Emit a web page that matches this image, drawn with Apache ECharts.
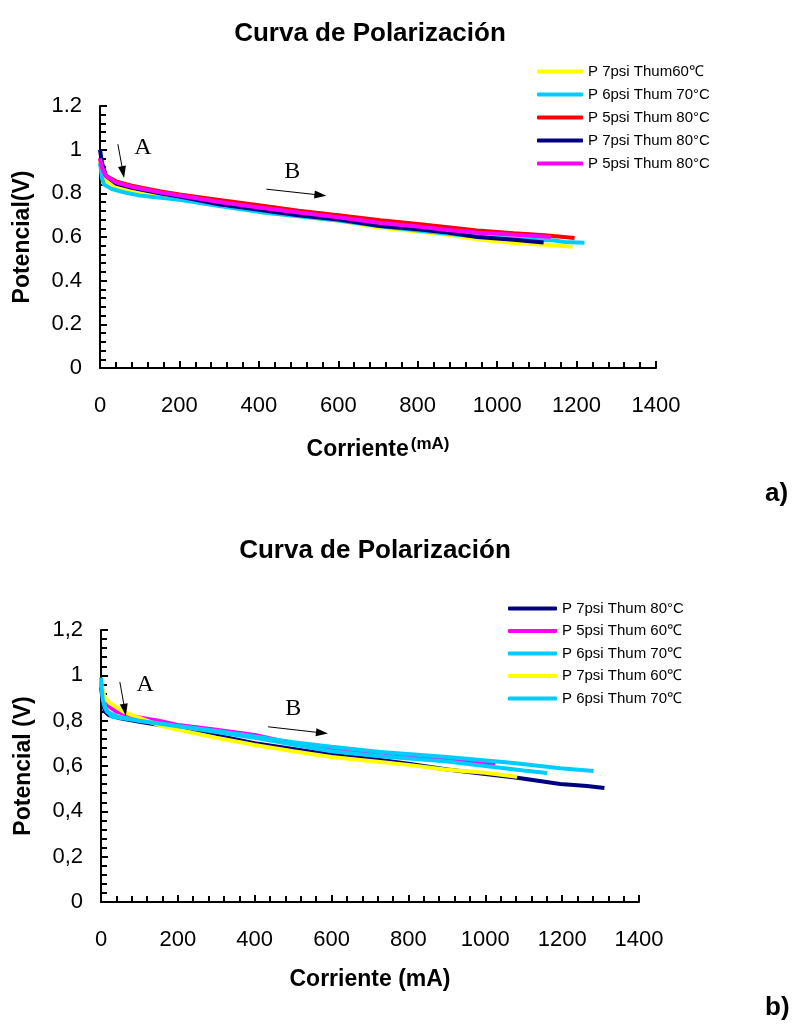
<!DOCTYPE html>
<html>
<head>
<meta charset="utf-8">
<script src="https://cdn.jsdelivr.net/npm/echarts@6/dist/echarts.min.js"></script>
<style>
html, body { margin: 0; padding: 0; background: #fff; }
#main { width: 792px; height: 1032px; }
</style>
</head>
<body>
<div id="main"></div>
<script>
// curva a) - corriente (mA), potencial (V)
var a_names = ['P 7psi Thum60\u2103', 'P 6psi Thum 70\u00b0C', 'P 5psi Thum 80\u00b0C', 'P 7psi Thum 80\u00b0C', 'P 5psi Thum 80\u00b0C '];
var a_colors = ['#ffff00', '#00ccff', '#ff0000', '#000080', '#ff00ff'];

var a_yellow = [[0,0.95],[5,0.9],[15,0.86],[40,0.83],[80,0.81],[150,0.79],[200,0.778],[300,0.748],[400,0.715],[500,0.695],[600,0.675],[700,0.643],[800,0.625],[875,0.61],[950,0.59],[1042,0.572],[1120,0.565],[1190,0.555]];
var a_cyan = [[0,0.94],[5,0.87],[10,0.84],[30,0.82],[60,0.805],[100,0.79],[200,0.77],[300,0.742],[400,0.715],[500,0.695],[600,0.675],[700,0.65],[800,0.63],[900,0.61],[1000,0.595],[1100,0.586],[1140,0.585],[1170,0.577],[1220,0.574]];
var a_red = [[0,0.96],[5,0.92],[15,0.88],[40,0.855],[80,0.835],[150,0.81],[200,0.795],[300,0.77],[400,0.745],[500,0.72],[600,0.7],[706,0.677],[800,0.66],[875,0.645],[950,0.63],[1042,0.617],[1120,0.608],[1195,0.595]];
var a_navy = [[0,1.0],[5,0.94],[15,0.88],[40,0.845],[80,0.825],[150,0.8],[200,0.785],[300,0.75],[400,0.725],[500,0.7],[600,0.68],[706,0.65],[800,0.635],[875,0.62],[950,0.6],[1042,0.587],[1117,0.575]];
var a_magenta = [[0,0.96],[5,0.92],[15,0.88],[40,0.85],[80,0.83],[150,0.805],[200,0.79],[300,0.76],[400,0.735],[500,0.712],[600,0.69],[706,0.664],[800,0.648],[875,0.632],[950,0.62],[1042,0.61],[1135,0.6]];

// curva b)
var b_names = ['P 7psi Thum 80\u00b0C', 'P 5psi Thum 60\u2103', 'P 6psi Thum 70\u2103', 'P 7psi Thum 60\u2103', 'P 6psi Thum 70\u2103 '];
var b_colors = ['#000080', '#ff00ff', '#00ccff', '#ffff00', '#00ccff'];

var b_navy = [[0,0.95],[5,0.88],[10,0.84],[20,0.825],[50,0.81],[100,0.795],[200,0.768],[300,0.735],[400,0.7],[500,0.675],[600,0.65],[727,0.627],[800,0.61],[901,0.585],[1000,0.565],[1083,0.548],[1195,0.521],[1265,0.512],[1310,0.503]];
var b_magenta = [[0,0.96],[5,0.91],[15,0.87],[40,0.84],[80,0.82],[150,0.8],[200,0.781],[300,0.76],[400,0.737],[500,0.7],[600,0.675],[727,0.66],[901,0.631],[1026,0.605]];
var b_cyan1 = [[0,0.99],[5,0.9],[10,0.857],[28,0.817],[60,0.81],[100,0.8],[200,0.777],[300,0.755],[400,0.73],[500,0.705],[600,0.685],[727,0.662],[901,0.64],[1073,0.613],[1195,0.59],[1282,0.578]];
var b_yellow = [[0,0.96],[10,0.9],[23,0.878],[58,0.84],[93,0.817],[150,0.78],[200,0.76],[300,0.725],[400,0.693],[500,0.665],[600,0.64],[727,0.618],[800,0.605],[901,0.583],[1000,0.57],[1083,0.553]];
var b_cyan2 = [[0,0.97],[5,0.89],[15,0.84],[40,0.82],[100,0.8],[200,0.775],[300,0.75],[400,0.725],[500,0.695],[600,0.665],[727,0.643],[901,0.62],[1000,0.6],[1100,0.58],[1161,0.569]];

// flechas A y B (mA, V)
var a_arrows = [[[45,1.025],[58,0.897]], [[419,0.819],[555,0.792]]];
var a_letters = [['A',108,1.011], ['B',484,0.897]];
var b_arrows = [[[49,0.971],[62,0.848]], [[435,0.773],[575,0.746]]];
var b_letters = [['A',115,0.958], ['B',500,0.852]];

var chart = echarts.init(document.getElementById('main'));

function xAx(grid, extra) {
    return {
        type: 'value', gridIndex: grid, min: 0, max: 1400, interval: 200,
        axisLine: { show: !extra, lineStyle: { color: '#000', width: 2 } },
        axisTick: { show: true, inside: !extra, length: 7, lineStyle: { color: '#000', width: 2 } },
        minorTick: { show: !extra, splitNumber: 5, length: 6, lineStyle: { color: '#000', width: 2 } },
        splitLine: { show: false },
        axisLabel: {
            show: !extra, margin: 27, color: '#000', fontSize: 22, fontFamily: 'Liberation Sans',
            formatter: function (v) { return String(v); }
        }
    };
}
function yAx(grid, extra, comma) {
    return {
        type: 'value', gridIndex: grid, min: 0, max: 1.2, interval: 0.2,
        axisLine: { show: !extra, lineStyle: { color: '#000', width: 2 } },
        axisTick: { show: true, inside: !extra, length: 7, lineStyle: { color: '#000', width: 2 } },
        minorTick: { show: !extra, splitNumber: 5, length: 6, lineStyle: { color: '#000', width: 2 } },
        splitLine: { show: false },
        axisLabel: {
            show: !extra, margin: 18, color: '#000', fontSize: 22, fontFamily: 'Liberation Sans',
            formatter: function (v) { var s = String(Math.round(v * 10) / 10); return comma ? s.replace('.', ',') : s; }
        }
    };
}

function mkSeries(name, color, data, xi, yi) {
    return {
        name: name, type: 'line', xAxisIndex: xi, yAxisIndex: yi, data: data,
        showSymbol: false, symbol: 'none', smooth: false,
        lineStyle: { color: color, width: 4 }, itemStyle: { color: color }
    };
}

function marks(s, arrows, letters) {
    s.markLine = {
        silent: true, symbol: ['none', 'triangle'], symbolSize: [8, 12],
        lineStyle: { color: '#000', width: 1, type: 'solid' },
        label: { show: false },
        data: arrows.map(function (a) { return [{ coord: a[0] }, { coord: a[1] }]; })
    };
    s.markPoint = {
        silent: true, symbol: 'rect', symbolSize: 1, itemStyle: { color: 'rgba(0,0,0,0)' },
        label: { show: true, position: 'inside', formatter: '{b}', color: '#000', fontSize: 24, fontFamily: 'Liberation Serif' },
        data: letters.map(function (l) { return { name: l[0], coord: [l[1], l[2]] }; })
    };
    return s;
}

var series = [
    mkSeries(a_names[0], a_colors[0], a_yellow, 0, 0),
    mkSeries(a_names[1], a_colors[1], a_cyan, 0, 0),
    mkSeries(a_names[2], a_colors[2], a_red, 0, 0),
    mkSeries(a_names[3], a_colors[3], a_navy, 0, 0),
    marks(mkSeries(a_names[4], a_colors[4], a_magenta, 0, 0), a_arrows, a_letters),
    mkSeries(b_names[0], b_colors[0], b_navy, 1, 1),
    mkSeries(b_names[1], b_colors[1], b_magenta, 1, 1),
    mkSeries(b_names[2], b_colors[2], b_cyan1, 1, 1),
    mkSeries(b_names[3], b_colors[3], b_yellow, 1, 1),
    marks(mkSeries(b_names[4], b_colors[4], b_cyan2, 1, 1), b_arrows, b_letters)
];

var xTop = xAx(0, false);
xTop.name = '{n|Corriente}{s|(mA)}';
xTop.nameLocation = 'middle';
xTop.nameGap = 68;
xTop.nameTextStyle = { rich: {
    n: { fontSize: 23, fontWeight: 'bold', color: '#000', fontFamily: 'Liberation Sans' },
    s: { fontSize: 17, fontWeight: 'bold', color: '#000', fontFamily: 'Liberation Sans', padding: [0, 0, 10, 2] }
} };
var xBot = xAx(1, false);
xBot.name = 'Corriente (mA)';
xBot.nameLocation = 'middle';
xBot.nameGap = 66;
xBot.nameTextStyle = { fontSize: 23, fontWeight: 'bold', color: '#000', fontFamily: 'Liberation Sans' };

var yTop = yAx(0, false, false);
yTop.name = 'Potencial(V)';
yTop.nameLocation = 'middle';
yTop.nameGap = 66;
yTop.nameTextStyle = { fontSize: 23, fontWeight: 'bold', color: '#000', fontFamily: 'Liberation Sans' };
var yBot = yAx(1, false, true);
yBot.name = 'Potencial (V)';
yBot.nameLocation = 'middle';
yBot.nameGap = 66;
yBot.nameTextStyle = { fontSize: 23, fontWeight: 'bold', color: '#000', fontFamily: 'Liberation Sans' };

var legendText = { color: '#000', fontSize: 15, fontFamily: 'Liberation Sans' };

var option = {
    animation: false,
    backgroundColor: '#fff',
    title: [
        { text: 'Curva de Polarizaci\u00f3n', left: 365, top: 16, textAlign: 'center',
          textStyle: { fontSize: 26, fontWeight: 'bold', color: '#000', fontFamily: 'Liberation Sans' } },
        { text: 'Curva de Polarizaci\u00f3n', left: 370, top: 533, textAlign: 'center',
          textStyle: { fontSize: 26, fontWeight: 'bold', color: '#000', fontFamily: 'Liberation Sans' } },
        { text: 'a)', left: 760, top: 476,
          textStyle: { fontSize: 26, fontWeight: 'bold', color: '#000', fontFamily: 'Liberation Sans' } },
        { text: 'b)', left: 760, top: 990,
          textStyle: { fontSize: 26, fontWeight: 'bold', color: '#000', fontFamily: 'Liberation Sans' } }
    ],
    legend: [
        { data: a_names, orient: 'vertical', left: 532, top: 59, icon: 'roundRect',
          itemWidth: 46, itemHeight: 4, itemGap: 8, textStyle: legendText },
        { data: b_names, orient: 'vertical', left: 503, top: 596, icon: 'roundRect',
          itemWidth: 49, itemHeight: 4, itemGap: 7.5, textStyle: legendText }
    ],
    grid: [
        { left: 100, width: 556, top: 106, height: 262 },
        { left: 101, width: 538, top: 630, height: 272 }
    ],
    xAxis: [xTop, xBot, xAx(0, true), xAx(1, true)],
    yAxis: [yTop, yBot, yAx(0, true, false), yAx(1, true, true)],
    series: series
};

chart.setOption(option);
</script>
</body>
</html>
